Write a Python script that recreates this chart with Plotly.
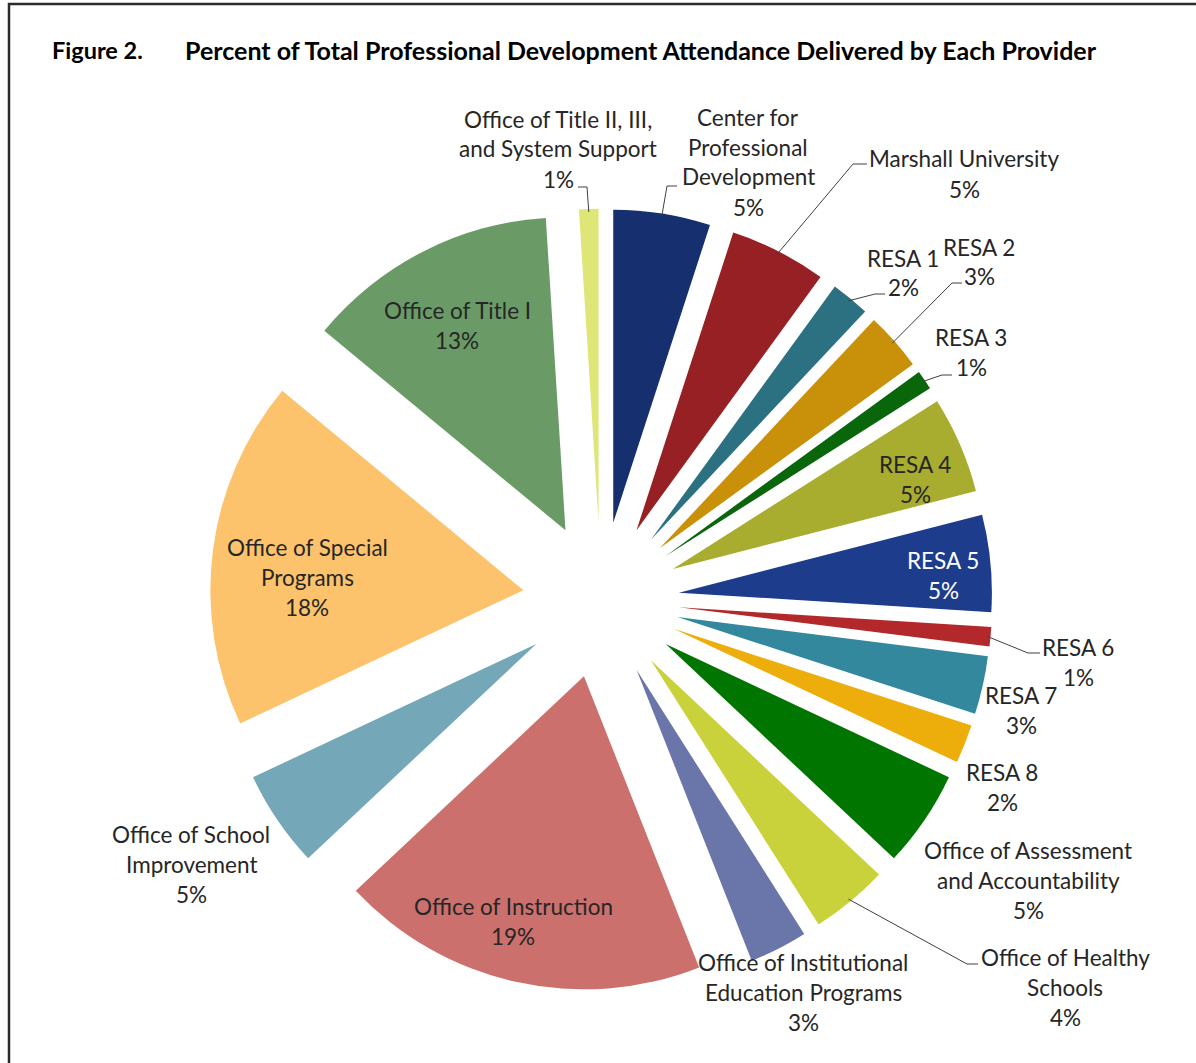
import math
import plotly.graph_objects as go

# ---- data -------------------------------------------------------------
providers = [
    "Center for Professional Development",
    "Marshall University",
    "RESA 1", "RESA 2", "RESA 3", "RESA 4", "RESA 5", "RESA 6", "RESA 7", "RESA 8",
    "Office of Assessment and Accountability",
    "Office of Healthy Schools",
    "Office of Institutional Education Programs",
    "Office of Instruction",
    "Office of School Improvement",
    "Office of Special Programs",
    "Office of Title I",
    "Office of Title II, III, and System Support",
]
percent = [5, 5, 2, 3, 1, 5, 5, 1, 3, 2, 5, 4, 3, 19, 5, 18, 13, 1]

# how each provider name is wrapped in its label
name_lines = [
    ["Center for", "Professional", "Development"],
    ["Marshall University"],
    ["RESA 1"], ["RESA 2"], ["RESA 3"], ["RESA 4"], ["RESA 5"],
    ["RESA 6"], ["RESA 7"], ["RESA 8"],
    ["Office of Assessment", "and Accountability"],
    ["Office of Healthy", "Schools"],
    ["Office of Institutional", "Education Programs"],
    ["Office of Instruction"],
    ["Office of School", "Improvement"],
    ["Office of Special", "Programs"],
    ["Office of Title I"],
    ["Office of Title II, III,", "and System Support"],
]

title_num = "Figure 2."
title_text = "Percent of Total Professional Development Attendance Delivered by Each Provider"

# ---- styling ------------------------------------------------------------
W, H = 1196, 1063
colors = [
    "#152F6F", "#962023", "#2B7181", "#C9900A", "#0A660A", "#A8AD2F",
    "#1D3C8C", "#B3282B", "#33889E", "#EDAE0C", "#007600", "#C9D23A",
    "#6A76AA", "#CC706D", "#74A7B8", "#FDC36C", "#6A9B67", "#DDE677",
]
PULL = 0.25
CX, CY = 601, 600          # pie centre (px)
R_OUT = 391.25             # radius incl. explosion (px)
FONT = "Lato"
FS = 22.5
LINE_H = 30
TEXT_COL = "#262626"

# label placement: centre x and first-line y (px), text colour
label_pos = {
    0: (748, 117), 1: (964, 159), 2: (903, 258), 3: (979, 247), 4: (971, 337),
    5: (915, 464), 6: (943, 560), 7: (1078, 647), 8: (1021, 695), 9: (1002, 772),
    10: (1028, 850), 11: (1065, 957), 12: (803, 962), 13: (513, 906),
    14: (191, 834), 15: (307, 547), 16: (457, 310), 17: (558, 119),
}
label_color = {6: "white"}
# leader lines: stub start and elbow next to the label (px)
leaders = {
    17: ((578, 187), (587, 187)),
    0: ((677, 186), (667, 186)),
    1: ((867, 164), (853, 164)),
    2: ((885, 294), (875, 294)),
    3: ((962, 283), (952, 283)),
    4: ((952, 375), (942, 375)),
    7: ((1040, 653), (1028, 653)),
    11: ((978, 964), (967, 964)),
}


def px(x):
    return x / W


def py(y):
    return 1 - y / H


fig = go.Figure(
    go.Pie(
        labels=providers,
        values=percent,
        sort=False,
        direction="clockwise",
        rotation=0,
        pull=[PULL] * len(percent),
        marker=dict(colors=colors, line=dict(width=0)),
        textinfo="none",
        hoverinfo="label+percent",
        domain=dict(
            x=[px(CX - R_OUT), px(CX + R_OUT)],
            y=[py(CY + R_OUT), py(CY - R_OUT)],
        ),
    )
)

annotations = []
shapes = []

total = sum(percent)
cum = 0.0
for i, (lines, p) in enumerate(zip(name_lines, percent)):
    mid = (cum + p / 2) / total * 2 * math.pi
    cum += p
    x0, y0 = label_pos[i]
    col = label_color.get(i, TEXT_COL)
    for k, t in enumerate(lines + [f"{p}%"]):
        annotations.append(dict(
            x=px(x0), y=py(y0 + k * LINE_H), xref="paper", yref="paper",
            text=t, showarrow=False, xanchor="center", yanchor="middle",
            font=dict(family=FONT, size=FS, color=col),
        ))
    if i in leaders:
        (sx, sy), (ex, ey) = leaders[i]
        rr = R_OUT - 3
        tx = CX + rr * math.sin(mid)
        ty = CY - rr * math.cos(mid)
        shapes.append(dict(
            type="path", xref="paper", yref="paper",
            path=f"M {px(sx)},{py(sy)} L {px(ex)},{py(ey)} L {px(tx)},{py(ty)}",
            line=dict(color="#404040", width=1),
        ))

# title
annotations.append(dict(
    x=px(50), y=py(50), xref="paper", yref="paper", text=f"<b>{title_num}</b>",
    showarrow=False, xanchor="left", yanchor="middle",
    font=dict(family=FONT, size=23.5, color="black"),
))
annotations.append(dict(
    x=px(183), y=py(50), xref="paper", yref="paper", text=f"<b>{title_text}</b>",
    showarrow=False, xanchor="left", yanchor="middle",
    font=dict(family=FONT, size=25, color="black"),
))

# frame along the left and top edges
shapes.append(dict(
    type="path", xref="paper", yref="paper",
    path=f"M {px(9)},{py(H + 5)} L {px(9)},{py(4)} L {px(W + 5)},{py(4)}",
    line=dict(color="#2b2b2b", width=2.5),
))

fig.update_layout(
    width=W, height=H,
    margin=dict(l=0, r=0, t=0, b=0),
    paper_bgcolor="white",
    plot_bgcolor="white",
    showlegend=False,
    annotations=annotations,
    shapes=shapes,
)

fig.write_html("out.html")
